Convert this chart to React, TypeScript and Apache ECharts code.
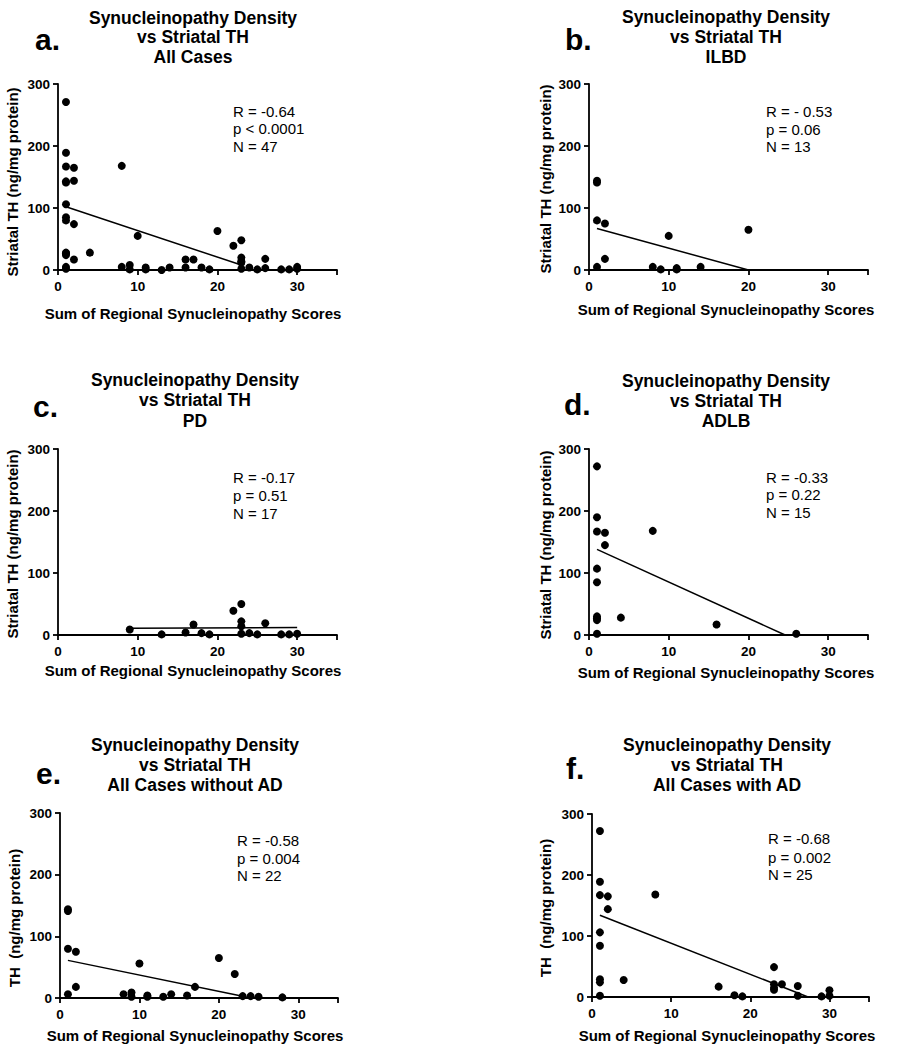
import React, { useEffect, useRef } from "react";
import * as echarts from "echarts";

// ---------- data ----------
const xAxisTicks = [0, 10, 20, 30];
const yAxisTicks = [0, 100, 200, 300];

// a. All Cases
const aX = [1, 1, 1, 1, 1, 1, 1, 1, 1, 1, 1, 1, 1, 2, 2, 2, 2, 4, 8, 8, 9, 9, 10, 11, 11, 13, 14, 16, 16, 17, 18, 19, 20, 22, 23, 23, 23, 23, 23, 24, 25, 26, 26, 28, 29, 30, 30];
const aY = [271, 189, 167, 141, 143, 106, 85, 80, 28, 27, 24, 5, 2, 165, 144, 74, 17, 28, 168, 5, 8, 1, 55, 4, 1, 0, 4, 17, 4, 17, 4, 1, 63, 39, 48, 20, 14, 12, 2, 4, 1, 18, 3, 1, 1, 5, 2];
const aFitX = [1, 23];
const aFitY = [102, 8];

// b. ILBD
const bX = [1, 1, 1, 1, 2, 2, 8, 9, 10, 11, 11, 14, 20];
const bY = [144, 141, 80, 5, 75, 18, 5, 1, 55, 3, 1, 5, 65];
const bFitX = [1, 20];
const bFitY = [67, 0];

// c. PD
const cX = [9, 13, 16, 17, 18, 19, 22, 23, 23, 23, 23, 24, 25, 26, 28, 29, 30];
const cY = [9, 1, 4, 17, 3, 1, 39, 50, 22, 14, 2, 3, 1, 19, 1, 1, 2];
const cFitX = [9, 30];
const cFitY = [11, 12];

// d. ADLB
const dX = [1, 1, 1, 1, 1, 1, 1, 1, 1, 2, 2, 4, 8, 16, 26];
const dY = [272, 190, 167, 107, 85, 30, 27, 24, 2, 165, 145, 28, 168, 17, 2];
const dFitX = [1, 24.6];
const dFitY = [138, 0];

// e. All Cases without AD
const eX = [1, 1, 1, 2, 2, 8, 9, 9, 10, 11, 11, 13, 14, 16, 17, 20, 22, 23, 24, 25, 28, 1];
const eY = [144, 80, 6, 75, 18, 6, 9, 2, 56, 4, 2, 2, 6, 4, 18, 65, 39, 3, 3, 2, 1, 141];
const eFitX = [1, 23];
const eFitY = [61, 3];

// f. All Cases with AD
const fX = [1, 1, 1, 1, 1, 1, 1, 1, 2, 2, 4, 8, 16, 18, 19, 23, 23, 23, 23, 24, 26, 26, 29, 30, 30];
const fY = [272, 189, 167, 106, 84, 29, 24, 2, 165, 144, 28, 168, 17, 3, 1, 49, 21, 15, 12, 21, 18, 2, 1, 11, 2];
const fFitX = [1, 27.3];
const fFitY = [134, 0];

const panelLetters = ["a.", "b.", "c.", "d.", "e.", "f."];
const panelSubtitles = ["All Cases", "ILBD", "PD", "ADLB", "All Cases without AD", "All Cases with AD"];
const statR = ["R = -0.64", "R = - 0.53", "R = -0.17", "R = -0.33", "R = -0.58", "R = -0.68"];
const statP = ["p < 0.0001", "p = 0.06", "p = 0.51", "p = 0.22", "p = 0.004", "p = 0.002"];
const statN = ["N = 47", "N = 13", "N = 17", "N = 15", "N = 22", "N = 25"];
const yNames = [
  "Striatal TH (ng/mg protein)",
  "Striatal TH (ng/mg protein)",
  "Striatal TH (ng/mg protein)",
  "Striatal TH (ng/mg protein)",
  "TH  (ng/mg protein)",
  "TH  (ng/mg protein)",
];
const xName = "Sum of Regional Synucleinopathy Scores";
const titleLine1 = "Synucleinopathy Density";
const titleLine2 = "vs Striatal TH";

const scatterX = [aX, bX, cX, dX, eX, fX];
const scatterY = [aY, bY, cY, dY, eY, fY];
const fitXs = [aFitX, bFitX, cFitX, dFitX, eFitX, fFitX];
const fitYs = [aFitY, bFitY, cFitY, dFitY, eFitY, fFitY];

// ---------- layout ----------
const FONT = 'Arial, "Liberation Sans", Helvetica, sans-serif';
const grids = [
  { left: 58, top: 84, width: 279, height: 186 },
  { left: 589, top: 84, width: 279, height: 186 },
  { left: 58, top: 449, width: 279, height: 186 },
  { left: 589, top: 449, width: 279, height: 186 },
  { left: 60, top: 813, width: 278, height: 185 },
  { left: 592, top: 814, width: 277, height: 183 },
];
const titleCenters = [
  { x: 193, y: [18, 37, 57] },
  { x: 726, y: [17, 37, 57] },
  { x: 195, y: [380, 400, 421] },
  { x: 726, y: [381, 401, 421] },
  { x: 195, y: [745, 765, 785] },
  { x: 727, y: [745, 765, 785] },
];
const letterPos = [
  { x: 35, y: 54 },
  { x: 565, y: 54 },
  { x: 33, y: 421 },
  { x: 564, y: 419 },
  { x: 36, y: 788 },
  { x: 566, y: 783 },
];
const statPos = [
  { x: 233, y: [111, 128, 146] },
  { x: 766, y: [111, 129, 146] },
  { x: 233, y: [477, 495, 513] },
  { x: 766, y: [477, 494, 512] },
  { x: 237, y: [840, 858, 875] },
  { x: 768, y: [838, 857, 874] },
];
const yNamePos = [
  { x: 12, y: 182 },
  { x: 545, y: 179 },
  { x: 12, y: 544 },
  { x: 545, y: 545 },
  { x: 14, y: 918 },
  { x: 545, y: 908 },
];
const xNamePos = [
  { x: 193, y: 313 },
  { x: 726, y: 309 },
  { x: 193, y: 670 },
  { x: 726, y: 672 },
  { x: 195, y: 1035 },
  { x: 727, y: 1035 },
];

export default function App() {
  const ref = useRef<HTMLDivElement>(null);
  useEffect(() => {
    if (!ref.current) return;
    const chart = echarts.init(ref.current, null, { renderer: "svg" });

    const axisCommon = {
      axisLine: { show: true, onZero: false, lineStyle: { color: "#000", width: 1.8 } },
      axisTick: { show: true, inside: false, length: 5, lineStyle: { color: "#000", width: 1.8 } },
      splitLine: { show: false },
      axisLabel: { color: "#000", fontFamily: FONT, fontWeight: "bold", fontSize: 13.5 },
    };

    const xAxes = grids.map((_, i) => ({
      ...axisCommon,
      type: "value",
      gridIndex: i,
      min: xAxisTicks[0],
      max: 35,
      interval: xAxisTicks[1] - xAxisTicks[0],
      axisLabel: {
        ...axisCommon.axisLabel,
        margin: 9,
        formatter: (v: number) => (xAxisTicks.includes(v) ? String(v) : ""),
      },
    }));
    const yAxes = grids.map((_, i) => ({
      ...axisCommon,
      type: "value",
      gridIndex: i,
      min: yAxisTicks[0],
      max: yAxisTicks[yAxisTicks.length - 1],
      interval: yAxisTicks[1] - yAxisTicks[0],
      axisLabel: { ...axisCommon.axisLabel, margin: 8 },
    }));

    const series: any[] = [];
    for (let i = 0; i < 6; i++) {
      series.push({
        type: "line",
        xAxisIndex: i,
        yAxisIndex: i,
        data: fitXs[i].map((x, k) => [x, fitYs[i][k]]),
        symbol: "none",
        lineStyle: { color: "#000", width: 1.5 },
        silent: true,
        z: 2,
      });
      series.push({
        type: "scatter",
        xAxisIndex: i,
        yAxisIndex: i,
        data: scatterX[i].map((x, k) => [x, scatterY[i][k]]),
        symbol: "circle",
        symbolSize: 8,
        itemStyle: { color: "#000", opacity: 1 },
        z: 3,
      });
    }

    const graphic: any[] = [];
    for (let i = 0; i < 6; i++) {
      const tc = titleCenters[i];
      [titleLine1, titleLine2, panelSubtitles[i]].forEach((t, k) => {
        graphic.push({
          type: "text",
          x: tc.x,
          y: tc.y[k],
          style: {
            text: t,
            font: `bold 17.5px ${FONT}`,
            fill: "#000",
            textAlign: "center",
            textVerticalAlign: "middle",
          },
        });
      });
      graphic.push({
        type: "text",
        x: letterPos[i].x,
        y: letterPos[i].y,
        style: {
          text: panelLetters[i],
          font: `bold 30px ${FONT}`,
          fill: "#000",
          textAlign: "left",
          textVerticalAlign: "bottom",
        },
      });
      const sp = statPos[i];
      [statR[i], statP[i], statN[i]].forEach((t, k) => {
        graphic.push({
          type: "text",
          x: sp.x,
          y: sp.y[k],
          style: {
            text: t,
            font: `15px ${FONT}`,
            fill: "#000",
            textAlign: "left",
            textVerticalAlign: "middle",
          },
        });
      });
      graphic.push({
        type: "text",
        x: yNamePos[i].x,
        y: yNamePos[i].y,
        rotation: Math.PI / 2,
        style: {
          text: yNames[i],
          font: `bold 15px ${FONT}`,
          fill: "#000",
          textAlign: "center",
          textVerticalAlign: "middle",
        },
      });
      graphic.push({
        type: "text",
        x: xNamePos[i].x,
        y: xNamePos[i].y,
        style: {
          text: xName,
          font: `bold 15px ${FONT}`,
          fill: "#000",
          textAlign: "center",
          textVerticalAlign: "middle",
        },
      });
    }

    chart.setOption({
      animation: false,
      backgroundColor: "#fff",
      grid: grids.map((g) => ({ ...g, containLabel: false })),
      xAxis: xAxes,
      yAxis: yAxes,
      series,
      graphic,
    });
    return () => chart.dispose();
  }, []);

  return (
    <div
      ref={ref}
      style={{ position: "fixed", left: 0, top: 0, width: 903, height: 1050, background: "#fff" }}
    />
  );
}
